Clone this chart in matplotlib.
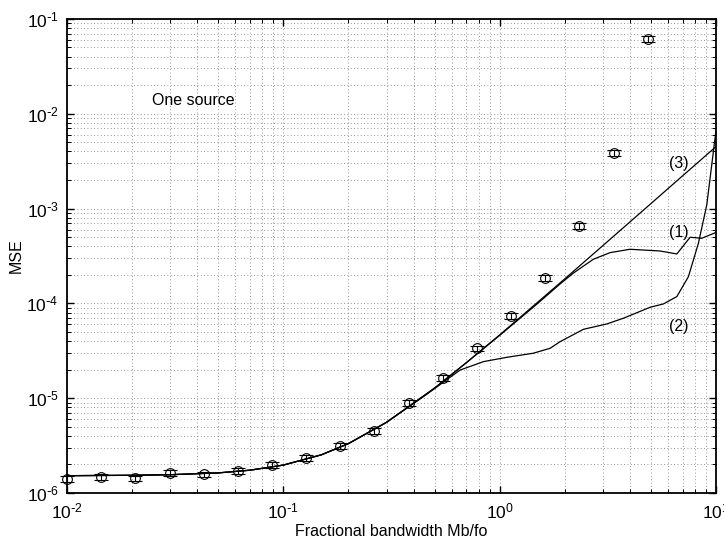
import numpy as np
import matplotlib
matplotlib.use("Agg")
import matplotlib.pyplot as plt
from matplotlib.ticker import LogLocator, NullFormatter, FuncFormatter

plt.rcParams['font.family'] = ['Liberation Sans', 'DejaVu Sans']
plt.rcParams['mathtext.default'] = 'regular'

# Measured points (circles with error bars)
x_meas = [0.0100, 0.0144, 0.0207, 0.0298, 0.0428, 0.0616, 0.0886, 0.1274, 0.1833,
          0.2636, 0.379, 0.545, 0.784, 1.128, 1.62, 2.33, 3.36, 4.83]
y_meas = [1.41e-6, 1.49e-6, 1.43e-6, 1.64e-6, 1.57e-6, 1.72e-6, 1.97e-6, 2.36e-6, 3.15e-6,
          4.51e-6, 8.97e-6, 1.64e-5, 3.36e-5, 7.36e-5, 1.84e-4, 6.6e-4, 3.89e-3, 6.1e-2]
rel_err = 0.07

# Curve (3)
x3 = [0.01, 0.02, 0.03, 0.05, 0.07, 0.1, 0.15, 0.2, 0.3, 0.5, 0.7, 1.0, 1.5, 2.0, 3.0, 5.0, 7.0, 10.0]
y3 = [1.524e-6, 1.538e-6, 1.56e-6, 1.63e-6, 1.74e-6, 1.97e-6, 2.53e-6, 3.32e-6, 5.57e-6,
      1.277e-5, 2.36e-5, 4.65e-5, 1.03e-4, 1.815e-4, 4.07e-4, 1.127e-3, 2.21e-3, 4.5e-3]

# Curve (1)
x1 = [0.01, 0.02, 0.03, 0.05, 0.07, 0.1, 0.15, 0.2, 0.3, 0.5, 0.7, 1.0, 1.5, 1.9, 2.2,
      2.71, 3.24, 4.0, 5.5, 6.59, 7.59, 8.59, 10.0]
y1 = [1.524e-6, 1.538e-6, 1.56e-6, 1.63e-6, 1.74e-6, 1.97e-6, 2.53e-6, 3.32e-6, 5.57e-6,
      1.277e-5, 2.36e-5, 4.6e-5, 1.0e-4, 1.6e-4, 2.1e-4,
      2.92e-4, 3.43e-4, 3.72e-4, 3.57e-4, 3.32e-4, 4.98e-4, 4.86e-4, 5.6e-4]

# Curve (2)
x2 = [0.01, 0.02, 0.03, 0.05, 0.07, 0.1, 0.15, 0.2, 0.3, 0.45, 0.55, 0.656, 0.841, 1.08,
      1.43, 1.71, 1.90, 2.44, 3.13, 3.73, 4.96, 5.71, 6.59, 7.45, 8.29, 9.06, 10.0]
y2 = [1.524e-6, 1.538e-6, 1.56e-6, 1.63e-6, 1.74e-6, 1.97e-6, 2.53e-6, 3.32e-6, 5.57e-6,
      1.06e-5, 1.48e-5, 1.98e-5, 2.43e-5, 2.70e-5, 2.98e-5, 3.36e-5, 3.94e-5, 5.33e-5,
      6.07e-5, 6.97e-5, 9.1e-5, 9.86e-5, 1.18e-4, 1.91e-4, 4.31e-4, 1.09e-3, 6.7e-3]


def pow10(v, pos):
    e = int(round(np.log10(v)))
    if e < 0:
        return r'$10^{\text{-}%d}$' % (-e)
    return r'$10^{%d}$' % e


fig = plt.figure(figsize=(7.24, 5.4), dpi=100)
ax = fig.add_axes([0.0925, 0.087, 0.8965, 0.878])

ax.plot(x3, y3, color='k', lw=0.9)
ax.plot(x1, y1, color='k', lw=0.9)
ax.plot(x2, y2, color='k', lw=0.9)

y_meas = np.array(y_meas)
ax.errorbar(x_meas, y_meas, yerr=rel_err * y_meas, fmt='o', mfc='none', mec='k',
            ms=7, mew=0.8, ecolor='k', elinewidth=0.8, capsize=5, capthick=0.8,
            clip_on=False, zorder=3)

ax.set_xscale('log')
ax.set_yscale('log')
ax.set_xlim(1e-2, 1e1)
ax.set_ylim(1e-6, 1e-1)

ax.xaxis.set_major_locator(LogLocator(base=10, numticks=10))
ax.yaxis.set_major_locator(LogLocator(base=10, numticks=10))
ax.xaxis.set_minor_locator(LogLocator(base=10, subs=np.arange(2, 10), numticks=20))
ax.yaxis.set_minor_locator(LogLocator(base=10, subs=np.arange(2, 10), numticks=20))
ax.xaxis.set_major_formatter(FuncFormatter(pow10))
ax.yaxis.set_major_formatter(FuncFormatter(pow10))
ax.xaxis.set_minor_formatter(NullFormatter())
ax.yaxis.set_minor_formatter(NullFormatter())

ax.grid(which='both', color='0.45', linestyle=(0, (1, 3)), linewidth=0.6)
ax.tick_params(which='both', direction='in', top=True, right=True, labelsize=12.5, pad=6)
ax.tick_params(which='major', length=5, width=1)
ax.tick_params(which='minor', length=3, width=0.7)
for s in ax.spines.values():
    s.set_linewidth(1.3)

ax.set_xlabel('Fractional bandwidth Mb/fo', fontsize=11.5, labelpad=2)
ax.set_ylabel('MSE', fontsize=11.5, labelpad=2)

ax.text(0.0382, 1.37e-2, 'One source', fontsize=11.5, ha='center', va='center')
ax.text(6.7, 3.0e-3, '(3)', fontsize=11.5, ha='center', va='center')
ax.text(6.7, 5.6e-4, '(1)', fontsize=11.5, ha='center', va='center')
ax.text(6.7, 5.67e-5, '(2)', fontsize=11.5, ha='center', va='center')

fig.savefig('out.png', dpi=100)
